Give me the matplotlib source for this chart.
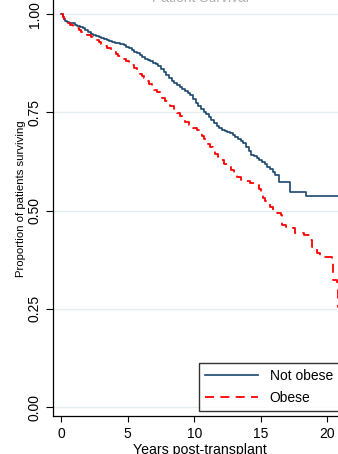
import matplotlib
matplotlib.use("Agg")
import matplotlib.pyplot as plt

plt.rcParams['font.family'] = ['Liberation Sans', 'DejaVu Sans']

# Kaplan-Meier estimates: (years, proportion surviving)
not_obese_km = [
    (0.0, 1.000), (0.1, 0.993), (0.2, 0.988), (0.3, 0.984), (0.45, 0.981), (0.6, 0.979),
    (0.8, 0.977), (1.0, 0.974), (1.2, 0.971), (1.4, 0.968), (1.6, 0.964), (1.8, 0.960),
    (2.0, 0.955), (2.2, 0.951), (2.4, 0.948), (2.6, 0.945), (2.8, 0.942), (3.0, 0.939),
    (3.2, 0.936), (3.4, 0.934), (3.6, 0.931), (3.8, 0.929), (4.0, 0.927), (4.2, 0.926),
    (4.4, 0.924), (4.7, 0.922), (4.9, 0.918), (5.1, 0.914), (5.3, 0.910), (5.5, 0.905),
    (5.7, 0.901), (5.9, 0.896), (6.1, 0.891), (6.3, 0.886), (6.5, 0.883), (6.7, 0.880),
    (6.9, 0.876), (7.1, 0.873), (7.3, 0.868), (7.5, 0.861), (7.7, 0.854), (7.9, 0.846),
    (8.1, 0.838), (8.3, 0.830), (8.5, 0.825), (8.7, 0.820), (8.9, 0.815), (9.1, 0.810),
    (9.3, 0.805), (9.5, 0.800), (9.7, 0.794), (9.9, 0.784), (10.1, 0.775), (10.3, 0.767),
    (10.5, 0.759), (10.7, 0.752), (10.9, 0.746), (11.1, 0.739), (11.3, 0.731),
    (11.5, 0.723), (11.7, 0.716), (11.9, 0.711), (12.1, 0.706), (12.3, 0.703),
    (12.5, 0.700), (12.7, 0.697), (12.9, 0.692), (13.1, 0.687), (13.3, 0.682),
    (13.5, 0.677), (13.7, 0.672), (13.9, 0.663), (14.1, 0.652), (14.3, 0.643),
    (14.5, 0.638), (14.7, 0.633), (14.9, 0.629), (15.1, 0.625), (15.3, 0.619),
    (15.5, 0.612), (15.7, 0.605), (15.9, 0.599), (16.1, 0.590), (16.35, 0.574),
    (17.2, 0.548), (18.4, 0.537), (21.5, 0.537),
]

obese_km = [
    (0.0, 1.000), (0.1, 0.993), (0.2, 0.987), (0.3, 0.982), (0.45, 0.977), (0.65, 0.972),
    (0.85, 0.968), (1.05, 0.964), (1.3, 0.960), (1.5, 0.956), (1.7, 0.952), (1.95, 0.948),
    (2.2, 0.943), (2.4, 0.939), (2.6, 0.935), (2.8, 0.930), (3.0, 0.925), (3.2, 0.920),
    (3.45, 0.915), (3.7, 0.909), (3.9, 0.905), (4.1, 0.900), (4.3, 0.895), (4.5, 0.890),
    (4.7, 0.885), (4.9, 0.880), (5.1, 0.875), (5.3, 0.870), (5.5, 0.864), (5.7, 0.857),
    (5.9, 0.849), (6.05, 0.843), (6.2, 0.837), (6.4, 0.830), (6.6, 0.823), (6.8, 0.815),
    (7.0, 0.808), (7.2, 0.801), (7.4, 0.794), (7.6, 0.787), (7.8, 0.780), (8.0, 0.773),
    (8.2, 0.766), (8.45, 0.757), (8.7, 0.748), (8.9, 0.740), (9.1, 0.731), (9.3, 0.726),
    (9.6, 0.718), (9.9, 0.711), (10.2, 0.705), (10.4, 0.697), (10.6, 0.690),
    (10.75, 0.682), (10.9, 0.675), (11.05, 0.669), (11.2, 0.663), (11.4, 0.654),
    (11.6, 0.645), (11.8, 0.636), (12.0, 0.628), (12.25, 0.620), (12.5, 0.612),
    (12.75, 0.603), (13.0, 0.595), (13.25, 0.586), (13.5, 0.578), (13.8, 0.575),
    (14.2, 0.571), (14.7, 0.565), (14.85, 0.556), (15.0, 0.545), (15.2, 0.532),
    (15.35, 0.524), (15.5, 0.518), (15.7, 0.510), (15.95, 0.500), (16.2, 0.494),
    (16.5, 0.489), (16.6, 0.463), (16.9, 0.459), (17.4, 0.455), (17.6, 0.442),
    (18.25, 0.438), (18.75, 0.425), (18.9, 0.408), (19.25, 0.391), (19.5, 0.383),
    (20.4, 0.374), (20.45, 0.323), (20.75, 0.318), (20.8, 0.255), (21.5, 0.255),
]

x_ticks = [0, 5, 10, 15, 20]
y_ticks = [0.00, 0.25, 0.50, 0.75, 1.00]
y_tick_labels = ["0.00", "0.25", "0.50", "0.75", "1.00"]
series_labels = ["Not obese", "Obese"]

not_obese_t = [p[0] for p in not_obese_km]
not_obese_s = [p[1] for p in not_obese_km]
obese_t = [p[0] for p in obese_km]
obese_s = [p[1] for p in obese_km]

W, H = 338, 454
fig = plt.figure(figsize=(W / 100, H / 100), dpi=100)
fig.patch.set_facecolor('white')

# axes in pixel coordinates (extends past the cropped right/top edges)
left_px, right_px, top_px, bottom_px = 53, 347, -18, 416
ax = fig.add_axes([left_px / W, 1 - bottom_px / H,
                   (right_px - left_px) / W, (bottom_px - top_px) / H])
ax.set_facecolor('white')

ax.set_xlim(-0.63, 21.5)
ax.set_ylim(-0.0229, 1.0823)

for y in y_ticks:
    ax.axhline(y, color='#E4EEF1', lw=1.0, zorder=0)

ax.step(not_obese_t, not_obese_s, where='post', color='#1A476F', lw=1.2,
        label=series_labels[0], zorder=3)
ax.step(obese_t, obese_s, where='post', color='#FF0000', lw=1.3,
        dashes=(5, 3.5), label=series_labels[1], zorder=3)

for s in ['top', 'right']:
    ax.spines[s].set_visible(False)
for s in ['left', 'bottom']:
    ax.spines[s].set_linewidth(0.9)
    ax.spines[s].set_color('black')

ax.set_xticks(x_ticks)
ax.set_xticklabels([str(v) for v in x_ticks], fontsize=10)
ax.set_yticks(y_ticks)
ax.set_yticklabels(y_tick_labels, fontsize=10, rotation=90, va='center')
ax.tick_params(axis='x', length=4.3, width=0.8, pad=3.6)
ax.tick_params(axis='y', length=5, width=0.8, pad=3.0)

ax.set_xlabel("Years post-transplant", fontsize=10.2, labelpad=1.5)
ax.set_ylabel("Proportion of patients surviving", fontsize=8.2, labelpad=1.2)

fig.text(200 / W, 1 - 2.5 / H, "Patient Survival", fontsize=10, color='#B0B0B0',
         ha='center', va='baseline')

leg = fig.legend(loc='upper left', bbox_to_anchor=(199 / W, 1 - 363 / H),
                 bbox_transform=fig.transFigure, borderaxespad=0, fontsize=10,
                 frameon=True, fancybox=False, edgecolor='black',
                 handlelength=3.8, handletextpad=0.85, borderpad=0.45,
                 labelspacing=0.55)
leg.get_frame().set_linewidth(1.0)

fig.savefig("out.png", dpi=100, facecolor='white')
